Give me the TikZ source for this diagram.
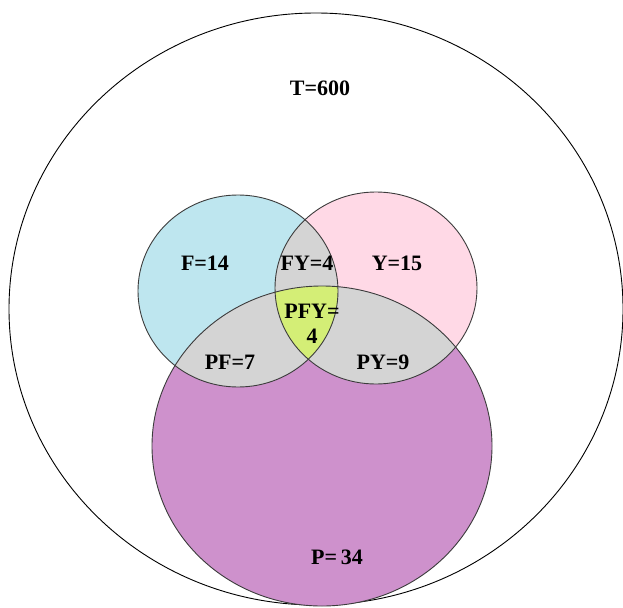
\documentclass[tikz,border=0pt]{standalone}
\usepackage{fontspec}
\setmainfont{Liberation Serif}
\definecolor{fcol}{RGB}{190,230,239}
\definecolor{ycol}{RGB}{255,217,230}
\definecolor{pcol}{RGB}{206,145,204}
\definecolor{gcol}{RGB}{212,212,212}
\definecolor{ccol}{RGB}{212,238,118}
\definecolor{linecol}{RGB}{60,60,60}
\begin{document}
\begin{tikzpicture}[x=1pt,y=-1pt,
  lbl/.style={font=\fontsize{22}{25}\selectfont\bfseries, inner sep=0pt, align=center},
  edge/.style={draw=linecol, line width=0.9pt}]
\useasboundingbox (0,0) rectangle (623,607);
\def\Tpath{(316,309) ellipse [x radius=307pt, y radius=296pt]}
\def\Fpath{(238,291) ellipse [x radius=100pt, y radius=96pt]}
\def\Ypath{(376,288) ellipse [x radius=101pt, y radius=96pt]}
\def\Ppath{(322,446) ellipse [x radius=170pt, y radius=160pt]}
\fill[white] (0,0) rectangle (623,607);
\draw[edge, draw=black] \Tpath;
\fill[fcol] \Fpath;
\fill[ycol] \Ypath;
\fill[pcol] \Ppath;
\begin{scope}
  \clip \Fpath;
  \fill[gcol] \Ypath;
  \fill[gcol] \Ppath;
\end{scope}
\begin{scope}
  \clip \Ypath;
  \fill[gcol] \Ppath;
\end{scope}
\begin{scope}
  \clip \Fpath;
  \clip \Ypath;
  \fill[ccol] \Ppath;
\end{scope}
\draw[edge] \Fpath;
\draw[edge] \Ypath;
\draw[edge] \Ppath;
\node[lbl] (t) at (320,88) {T=600};
\node[lbl] (f) at (205,263) {F=14};
\node[lbl] (fy) at (307,263) {FY=4};
\node[lbl] (y) at (397,263) {Y=15};
\node[lbl] (pfy) at (312,324) {PFY=\\4};
\node[lbl] (pf) at (230,362) {PF=7};
\node[lbl] (py) at (383,362) {PY=9};
\node[lbl] (p) at (337,557) {P=\,34};
\end{tikzpicture}
\end{document}
